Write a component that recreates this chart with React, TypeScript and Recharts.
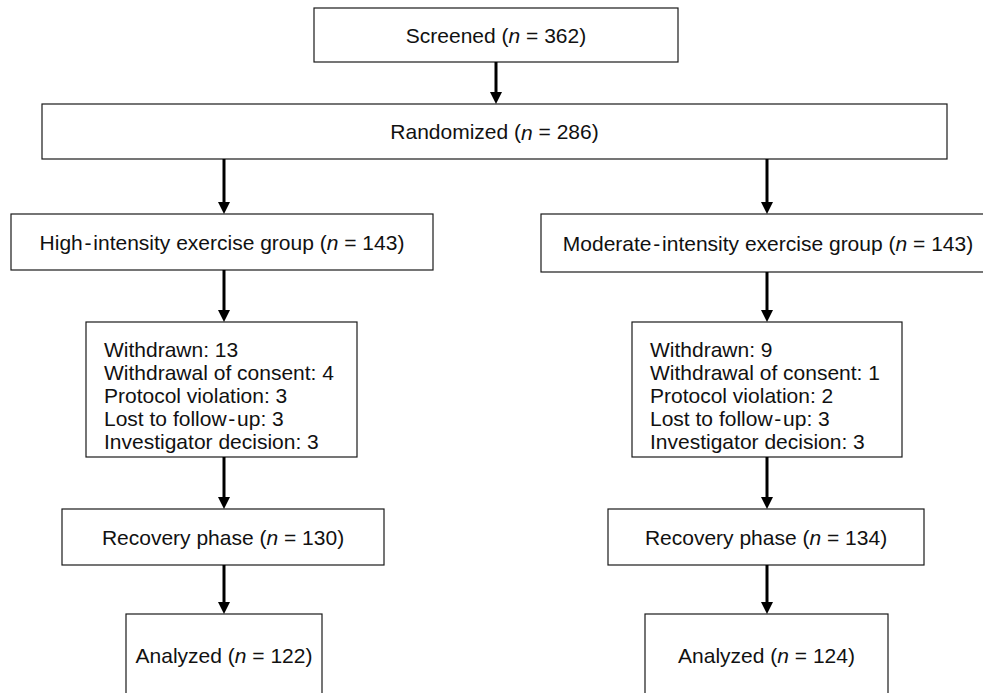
import React from 'react';
import { ScatterChart, Scatter, XAxis, YAxis, ReferenceArea, ReferenceLine } from 'recharts';

// flow counts
const stageNames = ['Screened', 'Randomized'];
const stageN = [362, 286];
const groupNames = ['High-intensity exercise group', 'Moderate-intensity exercise group'];
const groupN = [143, 143];
const withdrawnTotal = [13, 9];
const withdrawnReasons = ['Withdrawal of consent', 'Protocol violation', 'Lost to follow-up', 'Investigator decision'];
const withdrawnHigh = [4, 3, 3, 3];
const withdrawnModerate = [1, 2, 3, 3];
const recoveryN = [130, 134];
const analyzedN = [122, 124];

// layout (page pixels)
const W = 983;
const H = 693;
const FONT = "'Liberation Sans', Arial, Helvetica, sans-serif";
const FS = 21;

type Box = { x1: number; x2: number; y1: number; y2: number; kind: 'n' | 'list'; label?: string; n?: number; lines?: string[] };

const spaced = (s: string) => s.replace('-', '\u200A-\u200A');

const boxes: Box[] = [
  { x1: 314, x2: 678, y1: 8, y2: 62, kind: 'n', label: stageNames[0], n: stageN[0] },
  { x1: 42, x2: 947, y1: 104, y2: 159, kind: 'n', label: stageNames[1], n: stageN[1] },
  { x1: 11, x2: 433, y1: 214, y2: 270, kind: 'n', label: groupNames[0], n: groupN[0] },
  { x1: 541, x2: 995, y1: 214, y2: 272, kind: 'n', label: groupNames[1], n: groupN[1] },
  {
    x1: 86, x2: 357, y1: 322, y2: 457, kind: 'list',
    lines: [`Withdrawn: ${withdrawnTotal[0]}`, ...withdrawnReasons.map((r, i) => `${r}: ${withdrawnHigh[i]}`)],
  },
  {
    x1: 632, x2: 902, y1: 322, y2: 457, kind: 'list',
    lines: [`Withdrawn: ${withdrawnTotal[1]}`, ...withdrawnReasons.map((r, i) => `${r}: ${withdrawnModerate[i]}`)],
  },
  { x1: 62, x2: 384, y1: 509, y2: 565, kind: 'n', label: 'Recovery phase', n: recoveryN[0] },
  { x1: 608, x2: 924, y1: 509, y2: 565, kind: 'n', label: 'Recovery phase', n: recoveryN[1] },
  { x1: 126, x2: 322, y1: 614, y2: 710, kind: 'n', label: 'Analyzed', n: analyzedN[0] },
  { x1: 645, x2: 888, y1: 614, y2: 710, kind: 'n', label: 'Analyzed', n: analyzedN[1] },
];

const arrows = [
  { x: 496, y1: 62, y2: 104 },
  { x: 224, y1: 159, y2: 214 },
  { x: 767, y1: 159, y2: 214 },
  { x: 224, y1: 270, y2: 322 },
  { x: 767, y1: 272, y2: 322 },
  { x: 224, y1: 457, y2: 509 },
  { x: 767, y1: 457, y2: 509 },
  { x: 224, y1: 565, y2: 614 },
  { x: 767, y1: 565, y2: 614 },
];

const makeBoxShape = (b: Box) => (p: any) => {
  const { x, y, width, height } = p;
  const stroke = '#1a1a1a';
  if (b.kind === 'list') {
    return (
      <g>
        <rect x={x} y={y} width={width} height={height} fill="#fff" stroke={stroke} strokeWidth={1.2} />
        <text x={x + 18} y={y + 27} fontFamily={FONT} fontSize={FS} fill="#111" dominantBaseline="central">
          {(b.lines || []).map((l, i) => (
            <tspan key={i} x={x + 18} dy={i === 0 ? 0 : 23}>
              {spaced(l)}
            </tspan>
          ))}
        </text>
      </g>
    );
  }
  const cy = b.y2 > H ? y + 41 : y + height / 2;
  return (
    <g>
      <rect x={x} y={y} width={width} height={height} fill="#fff" stroke={stroke} strokeWidth={1.2} />
      <text x={x + width / 2} y={cy} textAnchor="middle" dominantBaseline="central" fontFamily={FONT} fontSize={FS} fill="#111">
        {spaced(b.label || '')} (<tspan fontStyle="italic">n</tspan> = {b.n})
      </text>
    </g>
  );
};

const arrowShape = (p: any) => {
  const { x1, y1, x2, y2 } = p;
  const head = 12;
  return (
    <g>
      <line x1={x1} y1={y1} x2={x2} y2={y2 - head + 1} stroke="#000" strokeWidth={3} />
      <polygon points={`${x2 - 6},${y2 - head} ${x2 + 6},${y2 - head} ${x2},${y2}`} fill="#000" />
    </g>
  );
};

export default function App() {
  return (
    <div style={{ position: 'absolute', left: 0, top: 0, width: W, height: H, background: '#fff' }}>
      <ScatterChart width={W} height={H} margin={{ top: 0, right: 0, bottom: 0, left: 0 }}>
        <XAxis type="number" dataKey="x" domain={[0, W]} hide allowDataOverflow />
        <YAxis type="number" dataKey="y" domain={[0, H]} reversed hide allowDataOverflow />
        <Scatter data={[]} isAnimationActive={false} />
        {boxes.map((b, i) => (
          <ReferenceArea
            key={`b${i}`}
            x1={b.x1}
            x2={b.x2}
            y1={b.y1}
            y2={b.y2}
            ifOverflow="visible"
            shape={makeBoxShape(b)}
          />
        ))}
        {arrows.map((a, i) => (
          <ReferenceLine
            key={`a${i}`}
            segment={[{ x: a.x, y: a.y1 }, { x: a.x, y: a.y2 }]}
            ifOverflow="visible"
            shape={arrowShape}
          />
        ))}
      </ScatterChart>
    </div>
  );
}
